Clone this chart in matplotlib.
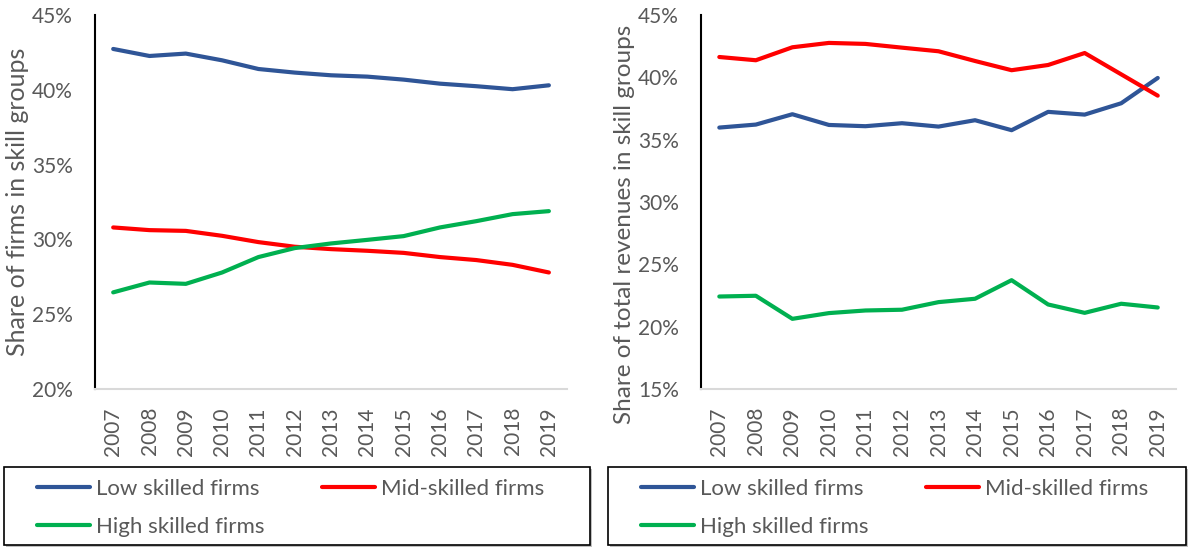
import matplotlib
matplotlib.use("Agg")
import matplotlib.pyplot as plt
from matplotlib.patches import Rectangle
from matplotlib.ticker import FuncFormatter, MultipleLocator

years = ["2007", "2008", "2009", "2010", "2011", "2012", "2013",
         "2014", "2015", "2016", "2017", "2018", "2019"]

# Share of firms in each skill group (%)
firms_low = [42.73, 42.26, 42.42, 41.97, 41.39, 41.15, 40.97, 40.88, 40.68, 40.41, 40.24, 40.04, 40.30]
firms_mid = [30.80, 30.62, 30.57, 30.24, 29.82, 29.51, 29.35, 29.24, 29.10, 28.82, 28.62, 28.30, 27.79]
firms_high = [26.46, 27.12, 27.03, 27.79, 28.82, 29.42, 29.73, 29.97, 30.22, 30.80, 31.22, 31.69, 31.89]

# Share of total revenues in each skill group (%)
rev_low = [35.97, 36.21, 37.04, 36.18, 36.08, 36.32, 36.05, 36.56, 35.76, 37.23, 37.01, 37.92, 39.95]
rev_mid = [41.63, 41.37, 42.41, 42.76, 42.68, 42.38, 42.09, 41.31, 40.57, 40.99, 41.95, 40.24, 38.53]
rev_high = [22.42, 22.48, 20.63, 21.09, 21.30, 21.36, 21.97, 22.24, 23.73, 21.78, 21.11, 21.84, 21.54]

series_labels = ["Low skilled firms", "Mid-skilled firms", "High skilled firms"]
colors = ["#2F5597", "#FF0000", "#00B050"]

plt.rcParams["font.family"] = ["Lato", "DejaVu Sans"]
TXT = "#595959"

fig = plt.figure(figsize=(11.88, 5.47), dpi=100)

panels = [
    dict(rect=[0.0800, 0.2888, 0.3973, 0.6838], data=[firms_low, firms_mid, firms_high],
         ylim=(20, 45), ylabel="Share of firms in skill groups", ylabel_size=18,
         ylabel_y=0.5, legend_box=(4, 467, 586, 78)),
    dict(rect=[0.5901, 0.2888, 0.3998, 0.6838], data=[rev_low, rev_mid, rev_high],
         ylim=(15, 45), ylabel="Share of total revenues in skill groups", ylabel_size=17.5,
         ylabel_y=0.44, legend_box=(608, 467, 578, 78)),
]

W, H = 1188, 547
for p in panels:
    ax = fig.add_axes(p["rect"])
    x = range(len(years))
    handles = []
    for vals, lab, c in zip(p["data"], series_labels, colors):
        h, = ax.plot(x, vals, color=c, lw=3.0, label=lab, solid_capstyle="round")
        handles.append(h)
    ax.set_xlim(-0.5, len(years) - 0.5)
    ax.set_ylim(*p["ylim"])
    ax.yaxis.set_major_locator(MultipleLocator(5))
    ax.yaxis.set_major_formatter(FuncFormatter(lambda v, _: f"{v:.0f}%"))
    ax.set_xticks(list(x))
    ax.set_xticklabels(years, rotation=90)
    ax.tick_params(axis="y", length=0, labelsize=15, colors=TXT, pad=16)
    ax.tick_params(axis="x", length=0, labelsize=15, colors=TXT, pad=13)
    for s in ("top", "right"):
        ax.spines[s].set_visible(False)
    ax.spines["left"].set_color("black")
    ax.spines["left"].set_linewidth(1.5)
    ax.spines["bottom"].set_color("#D9D9D9")
    ax.spines["bottom"].set_linewidth(1.5)
    ax.set_ylabel(p["ylabel"], fontsize=p["ylabel_size"], color=TXT, labelpad=2)
    ax.yaxis.label.set_y(p["ylabel_y"])

    # framed legend box below the plot
    bx, by, bw, bh = p["legend_box"]
    fx, fy, fw, fh = bx / W, 1 - (by + bh) / H, bw / W, bh / H
    fig.patches.append(Rectangle((fx + 2 / W, fy - 2 / H), fw, fh, transform=fig.transFigure,
                                 facecolor="#BFBFBF", edgecolor="none", zorder=0))
    fig.patches.append(Rectangle((fx, fy), fw, fh, transform=fig.transFigure,
                                 facecolor="white", edgecolor="black", lw=1.2, zorder=1))
    order = [handles[0], handles[2], handles[1]]
    fig.legend(order, [h.get_label() for h in order], ncol=2,
               loc="upper left", bbox_to_anchor=(fx + 24 / W, fy + fh - 3 / H),
               frameon=False, fontsize=16, labelcolor=TXT, handlelength=2.4,
               handletextpad=0.25, columnspacing=2.6, labelspacing=0.8,
               borderaxespad=0)

fig.savefig("out.png", dpi=100)
